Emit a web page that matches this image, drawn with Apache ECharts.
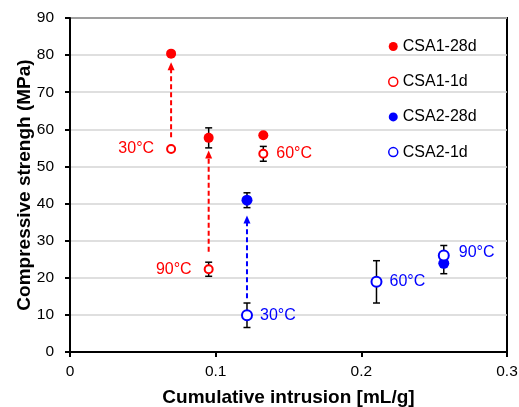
<!DOCTYPE html>
<html><head><meta charset="utf-8">
<script src="https://cdn.jsdelivr.net/npm/echarts@6/dist/echarts.min.js"></script>
<style>html,body{margin:0;padding:0;background:#fff;overflow:hidden}#c{width:519px;height:407px}</style>
</head><body><div id="c"></div>
<script>
// temperatures for each point
var temps = ['30°C', '90°C', '60°C'];
// CSA1
var csa1X = [0.0694, 0.0952, 0.1327];
var csa1_28d = [80.4, 57.7, 58.4];
var csa1_28dErr = [0.4, 2.7, 0.4];
var csa1_1d = [54.7, 22.3, 53.4];
var csa1_1dErr = [0.5, 1.9, 2.0];
var csa1LabelPos = ['left', 'left', 'right'];
// CSA2
var csa2X28 = [0.1215, 0.2566];
var csa2_28d = [40.9, 23.9];
var csa2_28dErr = [2.0, 2.8];
var csa2X1 = [0.1215, 0.2104, 0.2566];
var csa2_1d = [9.9, 18.9, 26.0];
var csa2_1dErr = [3.3, 5.7, 2.7];
var csa2Labels = ['30°C', '60°C', '90°C'];
// arrows: x, from, to
var arrowsRed = [[0.0694, 57.9, 78.1], [0.0952, 27.0, 54.3]];
var arrowsBlue = [[0.1215, 14.5, 36.8]];
var xTicks = [0, 0.1, 0.2, 0.3];
var yTicks = [0, 10, 20, 30, 40, 50, 60, 70, 80, 90];

var RED = '#ff0000', BLUE = '#0000ff';
var FONT = '"Liberation Sans", Arial, sans-serif';

function errData(xs, ys, es) {
  return xs.map(function (x, i) { return [x, ys[i] - es[i], ys[i] + es[i]]; });
}
var errAll = [].concat(
  errData(csa1X, csa1_28d, csa1_28dErr), errData(csa1X, csa1_1d, csa1_1dErr),
  errData(csa2X28, csa2_28d, csa2_28dErr), errData(csa2X1, csa2_1d, csa2_1dErr));

function errRender(params, api) {
  var p0 = api.coord([api.value(0), api.value(1)]);
  var p1 = api.coord([api.value(0), api.value(2)]);
  var w = 3.5;
  var st = { stroke: '#000', lineWidth: 1.5 };
  return { type: 'group', children: [
    { type: 'line', shape: { x1: p0[0], y1: p0[1], x2: p1[0], y2: p1[1] }, style: st },
    { type: 'line', shape: { x1: p0[0] - w, y1: p0[1], x2: p0[0] + w, y2: p0[1] }, style: st },
    { type: 'line', shape: { x1: p1[0] - w, y1: p1[1], x2: p1[0] + w, y2: p1[1] }, style: st }
  ]};
}
function arrowRender(color) {
  return function (params, api) {
    var p0 = api.coord([api.value(0), api.value(1)]);
    var p1 = api.coord([api.value(0), api.value(2)]);
    var hl = 8, hw = 3.5;
    return { type: 'group', children: [
      { type: 'line', shape: { x1: p0[0], y1: p0[1], x2: p1[0], y2: p1[1] + hl - 1 },
        style: { stroke: color, lineWidth: 2, lineDash: [5, 3] } },
      { type: 'polygon', shape: { points: [[p1[0], p1[1]], [p1[0] - hw, p1[1] + hl], [p1[0] + hw, p1[1] + hl]] },
        style: { fill: color } }
    ]};
  };
}

var csa1_1dData = csa1X.map(function (x, i) {
  return { value: [x, csa1_1d[i]], label: { show: true, formatter: temps[i], position: csa1LabelPos[i],
    distance: csa1LabelPos[i] === 'left' ? 12 : 8 } };
});
var csa2_1dData = csa2X1.map(function (x, i) {
  return { value: [x, csa2_1d[i]], label: { show: true, formatter: csa2Labels[i], position: 'right',
    distance: i === 2 ? 9 : 7, offset: i === 2 ? [0, -3] : [0, 0] } };
});

var chart = echarts.init(document.getElementById('c'), null, { renderer: 'canvas' });
chart.setOption({
  animation: false,
  textStyle: { fontFamily: FONT },
  grid: { left: 70, top: 18, right: 12, bottom: 55, containLabel: false, outerBoundsMode: 'none',
    show: true, borderColor: '#000', borderWidth: 2, backgroundColor: 'transparent' },
  xAxis: {
    type: 'value', min: xTicks[0], max: xTicks[xTicks.length - 1], interval: 0.1,
    name: 'Cumulative intrusion [mL/g]', nameLocation: 'middle', nameGap: 36, nameMoveOverlap: false,
    nameTextStyle: { fontFamily: FONT, fontSize: 19, fontWeight: 'bold', color: '#000' },
    axisLine: { lineStyle: { color: '#000', width: 2 } },
    axisTick: { show: true, length: 5, lineStyle: { color: '#000', width: 2 } },
    axisLabel: { fontFamily: FONT, fontSize: 15.5, color: '#000', margin: 12,
      formatter: function (v) { return v === 0 ? '0' : String(Math.round(v * 10) / 10); } },
    splitLine: { show: false }
  },
  yAxis: {
    type: 'value', min: yTicks[0], max: yTicks[yTicks.length - 1], interval: 10,
    name: 'Compressive strengh (MPa)', nameLocation: 'middle', nameGap: 36, nameMoveOverlap: false,
    nameTextStyle: { fontFamily: FONT, fontSize: 19, fontWeight: 'bold', color: '#000' },
    axisLine: { lineStyle: { color: '#000', width: 2 } },
    axisTick: { show: true, length: 5, lineStyle: { color: '#000', width: 2 } },
    axisLabel: { fontFamily: FONT, fontSize: 15.5, color: '#000', margin: 16 },
    splitLine: { show: true, lineStyle: { color: '#d4d4d4', width: 1.5 } }
  },
  legend: {
    orient: 'vertical', left: 388, top: 38.5, padding: 0, itemGap: 19.2, itemWidth: 9, itemHeight: 9, itemTextGap: 5,
    textStyle: { fontFamily: FONT, fontSize: 16, color: '#000' },
    data: [
      { name: 'CSA1-28d', icon: 'circle', itemStyle: { color: RED, borderWidth: 0 } },
      { name: 'CSA1-1d', icon: 'circle', itemStyle: { color: '#fff', borderColor: RED, borderWidth: 1.5 } },
      { name: 'CSA2-28d', icon: 'circle', itemStyle: { color: BLUE, borderWidth: 0 } },
      { name: 'CSA2-1d', icon: 'circle', itemStyle: { color: '#fff', borderColor: BLUE, borderWidth: 1.5 } }
    ]
  },
  series: [
    { type: 'custom', name: 'err', renderItem: errRender, data: errAll, z: 2, silent: true },
    { type: 'custom', name: 'arrowRed', renderItem: arrowRender(RED), data: arrowsRed, z: 3, silent: true },
    { type: 'custom', name: 'arrowBlue', renderItem: arrowRender(BLUE), data: arrowsBlue, z: 3, silent: true },
    { type: 'scatter', name: 'CSA1-28d', symbol: 'circle', symbolSize: 10, z: 5,
      itemStyle: { color: RED, opacity: 1 },
      data: csa1X.map(function (x, i) { return [x, csa1_28d[i]]; }) },
    { type: 'scatter', name: 'CSA1-1d', symbol: 'circle', symbolSize: 8, z: 6,
      itemStyle: { color: '#fff', borderColor: RED, borderWidth: 2, opacity: 1 },
      label: { color: RED, fontSize: 16, fontFamily: FONT },
      data: csa1_1dData },
    { type: 'scatter', name: 'CSA2-28d', symbol: 'circle', symbolSize: 11, z: 5,
      itemStyle: { color: BLUE, opacity: 1 },
      data: csa2X28.map(function (x, i) { return [x, csa2_28d[i]]; }) },
    { type: 'scatter', name: 'CSA2-1d', symbol: 'circle', symbolSize: 10, z: 6,
      itemStyle: { color: '#fff', borderColor: BLUE, borderWidth: 2, opacity: 1 },
      label: { color: BLUE, fontSize: 16, fontFamily: FONT },
      data: csa2_1dData }
  ]
});
</script></body></html>
